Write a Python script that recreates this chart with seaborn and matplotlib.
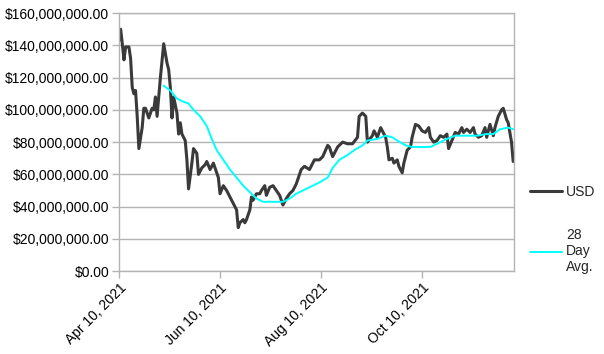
import pandas as pd
import numpy as np
import seaborn as sns
import matplotlib.pyplot as plt
import matplotlib.dates as mdates
from matplotlib.ticker import FuncFormatter, MultipleLocator

# data (day offset from Apr 10, 2021 ; value in $M)
start = pd.Timestamp('2021-04-10')

usd_day = [0, 1, 2, 3, 4, 6, 7, 8, 9, 10, 11, 12, 14, 15, 16, 18, 20, 21, 22, 23,
           25, 27, 29, 30, 31, 32, 33, 35, 36, 37, 38, 40, 41, 42, 44, 45, 47, 48, 50, 52,
           53, 55, 57, 59, 60, 61, 63, 65, 67, 69, 71, 72, 73, 75, 76, 77, 79, 80, 81, 83,
           85, 86, 88, 89, 91, 93, 95, 97, 99, 101, 103, 105, 107, 109, 110, 112, 115, 118, 121, 123,
           126, 127, 129, 132, 135, 138, 141, 144, 145, 147, 149, 150, 153, 154, 156, 158, 159, 161, 162, 163,
           165, 166, 168, 169, 171, 172, 174, 176, 177, 179, 181, 183, 185, 187, 188, 190, 192, 194, 196, 198,
           199, 201, 203, 205, 207, 208, 210, 212, 214, 215, 217, 219, 221, 222, 224, 226, 227, 229, 231, 232,
           234, 235, 237, 238]
usd_val = [143, 150, 141, 131, 139, 139, 132, 114, 110, 112, 96, 76, 89, 101, 101, 95, 101, 100, 108, 96,
           120, 141, 129, 125, 114, 95, 108, 98, 85, 92, 85, 81, 69, 51, 67, 76, 73, 60, 64, 66,
           68, 63, 67, 61, 58, 48, 53, 50, 46, 42, 38, 27, 30, 32, 30, 32, 38, 46, 44, 48,
           48, 50, 53, 47, 52, 53, 50, 47, 41, 45, 48, 50, 54, 60, 63, 65, 63, 69, 69, 71,
           78, 77, 71, 77, 80, 79, 79, 83, 96, 98, 96, 80, 84, 87, 83, 89, 87, 83, 77, 69,
           70, 67, 69, 65, 61, 67, 75, 77, 83, 91, 90, 87, 86, 89, 83, 80, 81, 84, 83, 85,
           76, 81, 86, 85, 89, 86, 88, 86, 89, 85, 83, 84, 89, 83, 91, 84, 89, 96, 100, 101,
           94, 92, 80, 68]

avg_day = [27, 31, 35, 39, 42, 45, 49, 53, 56, 59, 63, 67, 71, 75, 79, 83, 87, 91, 95, 99,
           103, 107, 111, 115, 121, 126, 129, 133, 138, 142, 147, 150, 156, 161, 165, 168, 173, 177, 182, 188,
           192, 198, 203, 210, 216, 222, 226, 230, 235, 238]
avg_val = [115, 112, 107, 105, 104, 100, 96, 90, 82, 75, 69, 63, 58, 53, 49, 45, 43, 43, 43, 43,
           45, 48, 50, 52, 55, 58, 64, 69, 72, 75, 78, 81, 82, 84, 83, 81, 78, 77, 77, 77,
           79, 82, 84, 84, 84, 85, 85, 88, 89, 88]

usd = pd.DataFrame({'date': start + pd.to_timedelta(usd_day, unit='D'),
                    'value': np.array(usd_val) * 1e6})
avg = pd.DataFrame({'date': start + pd.to_timedelta(avg_day, unit='D'),
                    'value': np.array(avg_val) * 1e6})

sns.set_style('white')
plt.rcParams['font.family'] = ['Liberation Sans', 'DejaVu Sans']

fig, ax = plt.subplots(figsize=(6.04, 3.54), dpi=100)
fig.subplots_adjust(left=0.197, right=0.851, top=0.963, bottom=0.234)

sns.lineplot(data=usd, x='date', y='value', ax=ax, color='#3a3a3a', linewidth=2.2, label='USD')
sns.lineplot(data=avg, x='date', y='value', ax=ax, color='#00ffff', linewidth=1.4, label='28\nDay\nAvg.')

grid_c = '#b3b3b3'
ax.set_ylim(0, 160e6)
ax.set_xlim(start, start + pd.Timedelta(days=238.5))
ax.yaxis.set_major_locator(MultipleLocator(20e6))
ax.yaxis.set_major_formatter(FuncFormatter(lambda v, p: f'${v:,.2f}'))
ax.set_xticks([pd.Timestamp(d) for d in ['2021-04-10', '2021-06-10', '2021-08-10', '2021-10-10']])
ax.xaxis.set_major_formatter(mdates.DateFormatter('%b %d, %Y'))
ax.yaxis.grid(True, color=grid_c, linewidth=1)
ax.xaxis.grid(False)
ax.set_xlabel('')
ax.set_ylabel('')
for s in ax.spines.values():
    s.set_color(grid_c)
    s.set_linewidth(1)
ax.tick_params(axis='both', which='major', length=5, width=1, color=grid_c,
               labelsize=10, labelcolor='black', direction='out', pad=2)
ax.tick_params(axis='x', bottom=True)
ax.tick_params(axis='y', left=True)
plt.setp(ax.get_xticklabels(), rotation=45, ha='right', rotation_mode='anchor')

ax.legend_.remove()
h, l = ax.get_legend_handles_labels()
fig.legend(h, l, loc='upper left', bbox_to_anchor=(0.868, 0.494), frameon=False,
           fontsize=10, handlelength=2.3, handletextpad=0.3, labelspacing=2.1,
           borderaxespad=0)

fig.savefig('out.png', dpi=100)
